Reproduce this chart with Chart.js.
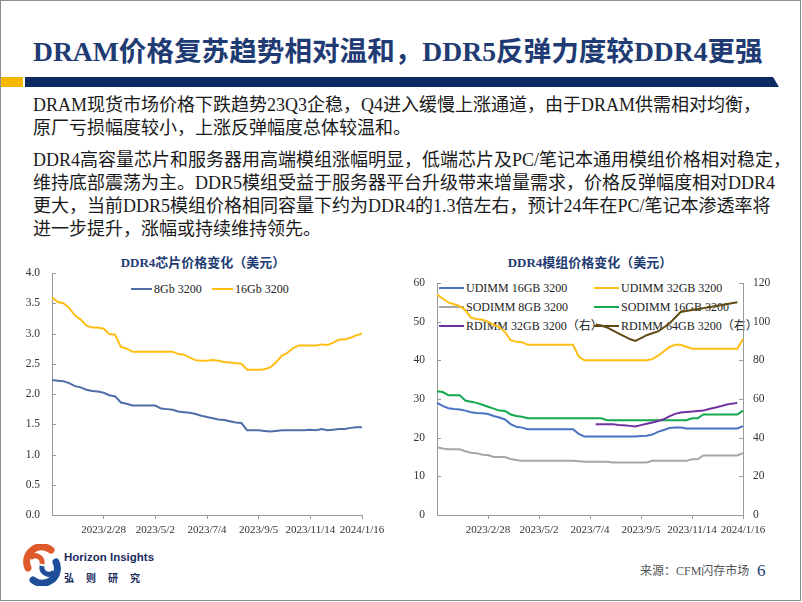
<!DOCTYPE html>
<html><head><meta charset="utf-8">
<script src="https://cdn.jsdelivr.net/npm/chart.js@4.4.1/dist/chart.umd.min.js"></script>
<style>
html,body{margin:0;padding:0;background:#fff;}
#page{position:relative;width:802px;height:602px;overflow:hidden;background:#fff;font-family:"Liberation Serif","Noto Sans CJK SC",serif;}
#frame{position:absolute;left:0;top:0;width:799px;height:599px;border:1px solid #8c8c8c;}
.abs{position:absolute;white-space:nowrap;}
#title{left:33px;top:35px;font-size:27.6px;line-height:34px;font-weight:bold;color:#1F3B73;}
.body{left:33px;font-size:18px;line-height:23px;color:#1a1a1a;}
.ctitle{font-size:13px;line-height:16px;font-weight:bold;color:#1F3B73;transform:translateX(-50%);}
.leg{font-size:12px;line-height:14px;color:#222;z-index:1;}
.legline{display:inline-block;height:2px;vertical-align:middle;margin-right:2px;position:relative;top:-1px;}
.cbox{position:absolute;z-index:2;}
</style></head>
<body>
<div id="page">
  <div id="frame"></div>
  <div id="title" class="abs">DRAM价格复苏趋势相对温和，DDR5反弹力度较DDR4更强</div>
  <div class="abs" style="left:1px;top:77px;width:22px;height:10px;background:#F5B800;"></div>
  <svg class="abs" style="left:25px;top:77px" width="760" height="10"><polygon points="0,0 748,0 754,10 0,10" fill="#0E2A62"/></svg>

  <div class="abs body" style="top:94px">DRAM现货市场价格下跌趋势23Q3企稳，Q4进入缓慢上涨通道，由于DRAM供需相对均衡，</div>
  <div class="abs body" style="top:117px">原厂亏损幅度较小，上涨反弹幅度总体较温和。</div>
  <div class="abs body" style="top:149px">DDR4高容量芯片和服务器用高端模组涨幅明显，低端芯片及PC/笔记本通用模组价格相对稳定，</div>
  <div class="abs body" style="top:172px">维持底部震荡为主。DDR5模组受益于服务器平台升级带来增量需求，价格反弹幅度相对DDR4</div>
  <div class="abs body" style="top:195px">更大，当前DDR5模组价格相同容量下约为DDR4的1.3倍左右，预计24年在PC/笔记本渗透率将</div>
  <div class="abs body" style="top:218px">进一步提升，涨幅或持续维持领先。</div>

  <div class="abs ctitle" style="left:203px;top:255px">DDR4芯片价格变化（美元）</div>
  <div class="abs ctitle" style="left:590px;top:255px">DDR4模组价格变化（美元）</div>
  <div id="legL"></div>
  <div id="legR"></div>

  <div class="cbox" style="left:0;top:240px;width:400px;height:300px"><canvas id="c1" width="400" height="300"></canvas></div>
  <div class="cbox" style="left:400px;top:240px;width:400px;height:300px"><canvas id="c2" width="400" height="300"></canvas></div>

  <svg class="abs" style="left:22px;top:544px" width="40" height="42" viewBox="0 0 40 42">
    <path d="M29 6 A15 15 0 0 0 6 24" fill="none" stroke="#E0592A" stroke-width="7" stroke-linecap="round"/>
    <path d="M20 20 A7 7 0 0 0 8 14" fill="none" stroke="#E0592A" stroke-width="5"/>
    <path d="M11 36 A15 15 0 0 0 34 18" fill="none" stroke="#1E4E9A" stroke-width="7" stroke-linecap="round"/>
    <path d="M20 22 A7 7 0 0 0 32 28" fill="none" stroke="#1E4E9A" stroke-width="5"/>
  </svg>
  <div class="abs" style="left:64px;top:550px;font-family:'Liberation Sans','Noto Sans CJK SC',sans-serif;font-weight:bold;font-size:11.5px;line-height:14px;color:#1B2B5C;">Horizon Insights</div>
  <div class="abs" style="left:64px;top:571px;font-family:'Noto Sans CJK SC',sans-serif;font-weight:bold;font-size:10px;line-height:13px;color:#1B2B5C;letter-spacing:12px;">弘则研究</div>
  <div class="abs" style="left:640px;top:563px;font-size:12px;line-height:16px;color:#555;">来源：CFM闪存市场</div>
  <div class="abs" style="left:757px;top:561px;font-size:17px;line-height:20px;color:#1F3B73;">6</div>
</div>

<script>
// ---- data ----
const dates = ['2022/12/27','2023/1/3','2023/1/10','2023/1/17','2023/1/24','2023/1/31','2023/2/7','2023/2/14','2023/2/21','2023/2/28',
 '2023/3/7','2023/3/14','2023/3/21','2023/3/28','2023/4/4','2023/4/11','2023/4/18','2023/4/25','2023/5/2',
 '2023/5/9','2023/5/16','2023/5/23','2023/5/30','2023/6/6','2023/6/13','2023/6/20','2023/6/27','2023/7/4',
 '2023/7/11','2023/7/18','2023/7/25','2023/8/1','2023/8/8','2023/8/15','2023/8/22','2023/8/29','2023/9/5',
 '2023/9/12','2023/9/19','2023/9/26','2023/10/10','2023/10/17','2023/10/24','2023/10/31','2023/11/7','2023/11/14',
 '2023/11/21','2023/11/28','2023/12/5','2023/12/12','2023/12/19','2023/12/26','2024/1/2','2024/1/9','2024/1/16'];
const tickLabels = ['2023/2/28','2023/5/2','2023/7/4','2023/9/5','2023/11/14','2024/1/16'];

const chip8Gb = [2.23,2.22,2.21,2.18,2.13,2.11,2.07,2.05,2.04,2.02, 1.98,1.96,1.86,1.84,1.81,1.81,1.81,1.81,1.81,1.76,
 1.75,1.74,1.71,1.70,1.69,1.67,1.64,1.62,1.60,1.58, 1.57,1.55,1.53,1.52,1.40,1.40,1.40,1.39,1.38,1.39,
 1.40,1.40,1.40,1.40,1.40,1.41,1.40,1.42,1.40,1.41, 1.42,1.42,1.44,1.45,1.45];
const chip16Gb = [3.60,3.52,3.50,3.42,3.30,3.23,3.13,3.10,3.10,3.08, 2.99,2.98,2.78,2.75,2.70,2.70,2.70,2.70,2.70,2.70,
 2.70,2.70,2.66,2.65,2.60,2.56,2.55,2.55,2.56,2.55, 2.53,2.52,2.51,2.50,2.40,2.40,2.40,2.41,2.44,2.52,
 2.63,2.68,2.76,2.80,2.80,2.80,2.80,2.82,2.81,2.85, 2.90,2.90,2.93,2.97,3.00];

const udimm16 = [29,28.2,27.6,27.4,27.3,27,26.6,26.4,26.3,26.1, 25.6,25.2,24.7,23.5,22.8,22.6,22.2,22.2,22.2,22.2,
 22.2,22.2,22.2,22.2,22.2,21,20.3,20.3,20.3,20.3, 20.3,20.3,20.3,20.3,20.3,20.3,20.4,20.5,20.8,21.5,
 22,22.5,22.6,22.6,22.4,22.4,22.4,22.4,22.4,22.4, 22.4,22.4,22.4,22.4,23];
const udimm32 = [57,56,55,54.5,54,53,51,50.7,50.5,50, 49.2,48.6,47.3,45.2,44.8,44.7,44,44,44,44,
 44,44,44,44,44,41,40,40,40,40, 40,40,40,40,40,40,40,40,40.3,41.2,
 42.3,43.4,44,44,43.5,43,43,43,43,43, 43,43,43,43,45.5];
const sodimm8 = [17.5,17.2,17,17,17,16.5,16.1,16,15.6,15.5, 15,15,15,14.5,14.2,14,14,14,14,14,
 14,14,14,14,14,13.9,13.8,13.8,13.8,13.8, 13.8,13.6,13.6,13.6,13.6,13.6,13.6,13.6,14,14,
 14,14,14,14,14,14.4,14.4,15.4,15.4,15.4, 15.4,15.4,15.4,15.4,16];
const sodimm16 = [32,31.8,31,31,31,29.6,29.3,29,28.5,28, 27.5,27,26.9,26,25.6,25.4,25,25,25,25,
 25,25,25,25,25,25,25,25,25,25, 24.5,24.5,24.5,24.5,24.5,24.5,24.5,24.5,24.5,24.5,
 24.5,24.5,24.5,24.5,24.5,25,25,26,26,26, 26,26,26,26,27];
const rdimm32 = [null,null,null,null,null,null,null,null,null,null, null,null,null,null,null,null,null,null,null,null,
 null,null,null,null,null,null,null,null,47,47, 47,47,46.6,46.4,46.1,45.8,46.5,47.2,47.8,48.6,
 49.5,51,52.3,53,53.3,53.5,53.8,54,54.8,55.5, 56.2,57,57.6,58,null];
const rdimm64 = [null,null,null,null,null,null,null,null,null,null, null,null,null,null,null,null,null,null,null,null,
 null,null,null,null,null,null,null,null,98.5,98, 97,95.5,94,92.5,91,90,91.5,93,94,95,
 97,99,102,105,105.5,106,106.5,107,107.5,108, 108.5,109,109.5,110,null];

// ---- styling ----
const AXIS = '#9a9a9a', TXT = '#333';
const SERIF = '"Liberation Serif","Noto Sans CJK SC",serif';
const isTick = i => tickLabels.includes(dates[i]);

const leftSeries = [
  {label:'8Gb 3200', data:chip8Gb, color:'#4F6EA8'},
  {label:'16Gb 3200', data:chip16Gb, color:'#FFBE14'}
];
const rightSeries = [
  {label:'UDIMM 16GB 3200', data:udimm16, color:'#4A72C0', axis:'y'},
  {label:'UDIMM 32GB 3200', data:udimm32, color:'#FFBE14', axis:'y'},
  {label:'SODIMM 8GB 3200', data:sodimm8, color:'#A6A6A6', axis:'y'},
  {label:'SODIMM 16GB 3200', data:sodimm16, color:'#13A84E', axis:'y'},
  {label:'RDIMM 32GB 3200（右）', data:rdimm32, color:'#7030A0', axis:'y1'},
  {label:'RDIMM 64GB 3200（右）', data:rdimm64, color:'#5E4A12', axis:'y1'}
];

function legendHTML(el, items, pos){
  el.innerHTML = items.map((s,i)=>{
    const p = pos[i];
    return `<div class="abs leg" style="left:${p[0]}px;top:${p[1]-7}px"><span class="legline" style="width:${p[2]}px;background:${s.color}"></span>${s.label}</div>`;
  }).join('');
}
legendHTML(document.getElementById('legL'), leftSeries, [[131,289,21],[212,289,21]]);
legendHTML(document.getElementById('legR'), rightSeries, [[439,288,25],[594,288,25],[439,307,25],[594,307,25],[439,326,25],[594,326,25]]);

const innerTicks = {
  id:'innerTicks',
  afterDatasetsDraw(chart){
    const ctx = chart.ctx;
    ctx.save(); ctx.strokeStyle = AXIS; ctx.lineWidth = 1;
    Object.values(chart.scales).forEach(s=>{
      if (s.axis !== 'y') return;
      const left = s.position === 'left';
      const x0 = left ? s.right : s.left;
      s.ticks.forEach((t,i)=>{
        const y = Math.round(s.getPixelForTick(i)) + 0.5;
        ctx.beginPath(); ctx.moveTo(x0, y); ctx.lineTo(x0 + (left?4:-4), y); ctx.stroke();
      });
    });
    ctx.restore();
  }
};

function xScale(){
  return {
    type:'category', offset:false,
    grid:{display:true, drawOnChartArea:false, drawTicks:true, tickLength:4,
      color: c => isTick(c.index) ? AXIS : 'rgba(0,0,0,0)'},
    border:{display:true, color:AXIS, width:1},
    ticks:{autoSkip:false, maxRotation:0, minRotation:0, padding:5, color:TXT,
      font:{family:SERIF, size:11}, callback:(v,i)=> isTick(i) ? dates[i] : ''},
    afterFit: s => { s.height = 25; }
  };
}
function yScale(min,max,step,pos,width,pad,dec){
  return {
    type:'linear', position:pos, min:min, max:max,
    grid:{display:false, drawTicks:false},
    border:{display:true, color:AXIS, width:1},
    ticks:{stepSize:step, padding:pad, color:TXT, font:{family:SERIF, size:11.5},
      callback: v => dec ? Number(v).toFixed(dec) : String(v)},
    afterFit: s => { s.width = width; }
  };
}
function ds(s,i){
  return {label:s.label, data:s.data, borderColor:s.color, backgroundColor:s.color,
    borderWidth:2, pointRadius:0, tension:0, fill:false, yAxisID:s.axis||'y', order:-i};
}
const common = {
  responsive:false, devicePixelRatio:1, animation:false,
  plugins:{legend:{display:false}, tooltip:{enabled:false}, title:{display:false}}
};

new Chart(document.getElementById('c1'), {
  type:'line',
  data:{labels:dates, datasets:leftSeries.map(ds)},
  options:Object.assign({}, common, {
    layout:{padding:{left:0,right:38,top:33,bottom:0}},
    scales:{x:xScale(), y:yScale(0,4,0.5,'left',52,12,1)}
  }),
  plugins:[innerTicks]
});
new Chart(document.getElementById('c2'), {
  type:'line',
  data:{labels:dates, datasets:rightSeries.map(ds)},
  options:Object.assign({}, common, {
    layout:{padding:{left:0,right:0,top:43,bottom:0}},
    scales:{x:xScale(), y:yScale(0,60,10,'left',37,12,0), y1:yScale(0,120,20,'right',57,10,0)}
  }),
  plugins:[innerTicks]
});
</script>
</body></html>
